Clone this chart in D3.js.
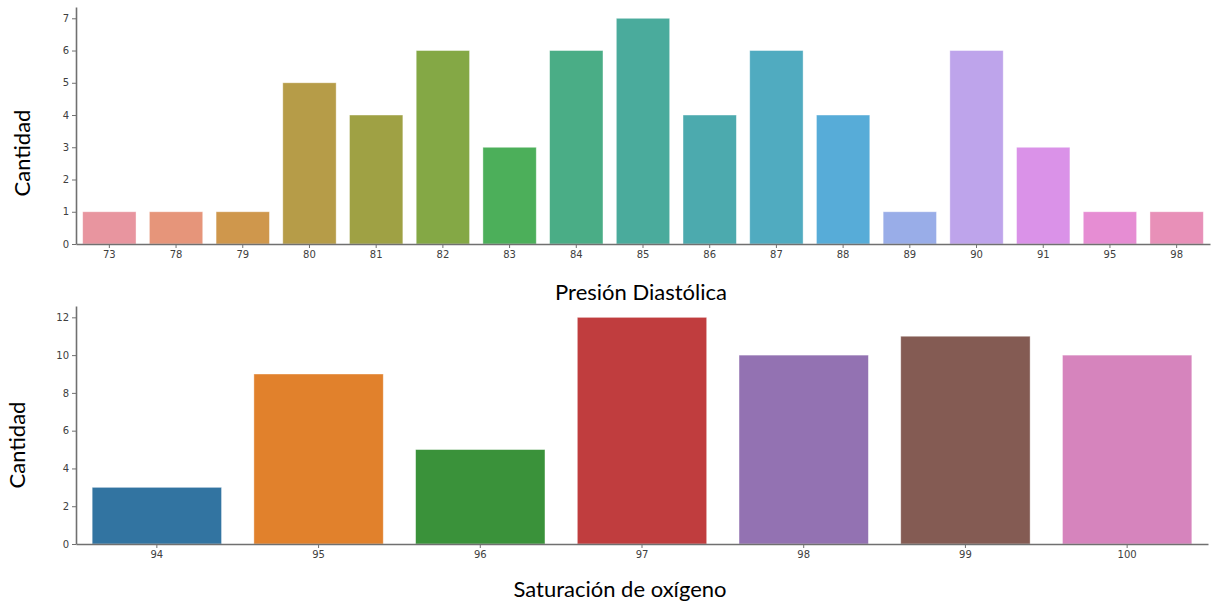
<!DOCTYPE html>
<html><head><meta charset="utf-8">
<script src="https://cdn.jsdelivr.net/npm/d3@7"></script>
<style>body{margin:0;background:#fff}svg{display:block}</style>
</head><body>
<svg id="c" width="1211" height="605"></svg>
<script>
const diaCats = ["73","78","79","80","81","82","83","84","85","86","87","88","89","90","91","95","98"];
const diaVals = [1,1,1,5,4,6,3,6,7,4,6,4,1,6,3,1,1];
const diaColors = ["#e8959f","#e6957a","#cf974c","#b69c48","#9fa144","#84a845","#4caf5a","#4aad86","#4aab9c","#4caaae","#50abc0","#57acd8","#99ade8","#bea4eb","#da92e8","#e68dd3","#e890b8"];
const diaTicks = [0,1,2,3,4,5,6,7];

const satCats = ["94","95","96","97","98","99","100"];
const satVals = [3,9,5,12,10,11,10];
const satColors = ["#3274a1","#e1812c","#3a923a","#c03d3e","#9372b2","#845b53","#d684bd"];
const satTicks = [0,2,4,6,8,10,12];

const svg = d3.select("#c");

function panel(cats, vals, colors, ticks, ymax, x0, x1, yTop, yBot, xlabel, xlabelX, xlabelY, ylabelX, ylabelY) {
  const x = d3.scaleBand().domain(cats).range([x0, x1]).paddingInner(0.2).paddingOuter(0.1);
  const y = d3.scaleLinear().domain([0, ymax]).range([yBot, yTop]);
  const g = svg.append("g");
  g.selectAll("rect").data(cats).join("rect")
    .attr("x", d => x(d)).attr("width", x.bandwidth())
    .attr("y", (d,i) => y(vals[i])).attr("height", (d,i) => yBot - y(vals[i]))
    .attr("fill", (d,i) => colors[i])
    .attr("stroke", "#ffffff").attr("stroke-opacity", 0.5).attr("stroke-width", 0.8);
  const ax = g.append("g").attr("transform", `translate(0,${yBot})`)
    .call(d3.axisBottom(x).tickSize(4).tickSizeOuter(0));
  const ay = g.append("g").attr("transform", `translate(${x0},0)`)
    .call(d3.axisLeft(y).tickValues(ticks).tickSize(4).tickSizeOuter(0));
  [ax, ay].forEach(a => {
    a.select(".domain").attr("stroke", "#707070").attr("stroke-width", 1.6);
    a.selectAll(".tick line").attr("stroke", "#707070");
    a.selectAll(".tick text").attr("fill", "#404040").attr("font-family", "DejaVu Sans").attr("font-size", 10);
  });
  svg.append("text").attr("x", xlabelX).attr("y", xlabelY)
    .attr("text-anchor", "middle").attr("font-family", "Lato, 'Open Sans', sans-serif")
    .attr("font-size", 22).attr("fill", "#000").text(xlabel);
  svg.append("text").attr("transform", `translate(${ylabelX},${ylabelY}) rotate(-90)`)
    .attr("text-anchor", "middle").attr("font-family", "Lato, 'Open Sans', sans-serif")
    .attr("font-size", 22).attr("fill", "#000").text("Cantidad");
}

panel(diaCats, diaVals, diaColors, diaTicks, 7.35, 76, 1210, 7, 244, "Presión Diastólica", 641, 300, 30, 153);
panel(satCats, satVals, satColors, satTicks, 12.6, 76, 1208, 306, 544, "Saturación de oxígeno", 620, 597, 25, 445);
</script>
</body></html>
